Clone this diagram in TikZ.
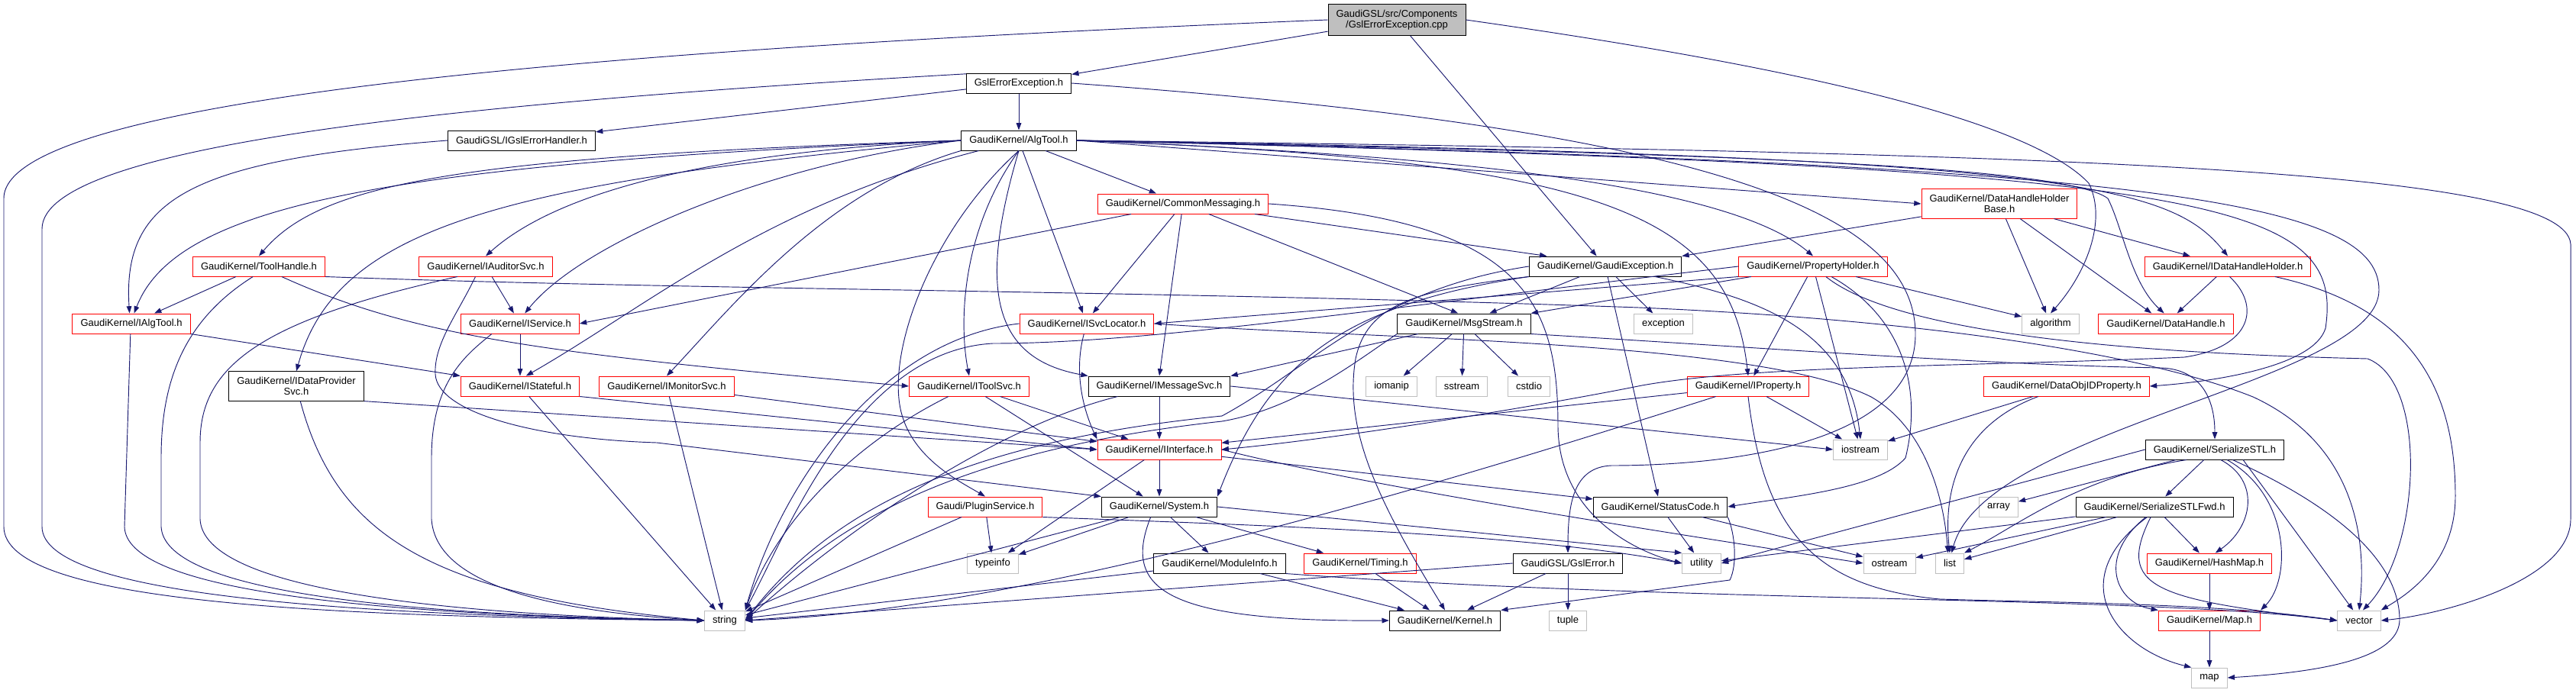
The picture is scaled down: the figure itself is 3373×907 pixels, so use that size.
\documentclass[tikz,border=0pt]{standalone}
\usepackage{fontspec}
\setmainfont{Liberation Sans}
\usepackage{xcolor}
\usepackage{tikz}
\usetikzlibrary{arrows.meta}
\definecolor{edgeblue}{HTML}{191970}
\definecolor{truncred}{HTML}{FF0000}
\definecolor{sysgray}{HTML}{BFBFBF}

\begin{document}
\begin{tikzpicture}[x=0.75pt,y=-0.75pt]
  \tikzset{FileBox/.style={rectangle, draw=black, fill=white, line width=0.75pt, text centered, inner xsep=7.9pt, inner ysep=0pt, minimum height=19.5pt, font=\fontsize{9.75}{10.5}\selectfont}};
  \tikzset{RedBox/.style={FileBox, draw=truncred}};
  \tikzset{SysBox/.style={FileBox, draw=sysgray}};
  \tikzset{RootBox/.style={FileBox, fill=sysgray, align=center, inner ysep=5.5pt}};
  \tikzset{Wrap/.style={align=center, inner ysep=5.5pt}};
  \tikzset{Dep/.style={-{Triangle[length=7pt,width=5pt]}, draw=edgeblue, line width=0.7pt}};
  \fill[white] (0,0) rectangle (3373,907);
  \useasboundingbox (0,0) rectangle (3373,907);
  \node[RootBox] (root) at (1829,26) {GaudiGSL/src/Components\\/GslErrorException.cpp};
  \node[FileBox] (gee) at (1334,109) {GslErrorException.h};
  \node[FileBox] (igeh) at (683,184) {GaudiGSL/IGslErrorHandler.h};
  \node[FileBox] (algtool) at (1334,184) {GaudiKernel/AlgTool.h};
  \node[RedBox] (cmsg) at (1549,267) {GaudiKernel/CommonMessaging.h};
  \node[RedBox,Wrap] (dhhb) at (2618,267) {GaudiKernel/DataHandleHolder\\Base.h};
  \node[RedBox] (toolh) at (339,349) {GaudiKernel/ToolHandle.h};
  \node[RedBox] (iaud) at (636,349) {GaudiKernel/IAuditorSvc.h};
  \node[FileBox] (gexc) at (2102,349) {GaudiKernel/GaudiException.h};
  \node[RedBox] (prop) at (2374,349) {GaudiKernel/PropertyHolder.h};
  \node[RedBox] (idhh) at (2917,349) {GaudiKernel/IDataHandleHolder.h};
  \node[RedBox] (ialg) at (172,424) {GaudiKernel/IAlgTool.h};
  \node[RedBox] (isvc) at (681,424) {GaudiKernel/IService.h};
  \node[RedBox] (isloc) at (1423,424) {GaudiKernel/ISvcLocator.h};
  \node[FileBox] (msgs) at (1917,424) {GaudiKernel/MsgStream.h};
  \node[SysBox] (exc) at (2178,424) {exception};
  \node[SysBox] (algo) at (2685,424) {algorithm};
  \node[RedBox] (dh) at (2836,424) {GaudiKernel/DataHandle.h};
  \node[FileBox,Wrap] (idps) at (388,506) {GaudiKernel/IDataProvider\\Svc.h};
  \node[RedBox] (istate) at (681,506) {GaudiKernel/IStateful.h};
  \node[RedBox] (imon) at (873,506) {GaudiKernel/IMonitorSvc.h};
  \node[RedBox] (itool) at (1269,506) {GaudiKernel/IToolSvc.h};
  \node[FileBox] (imsg) at (1518,506) {GaudiKernel/IMessageSvc.h};
  \node[SysBox] (iomanip) at (1822,506) {iomanip};
  \node[SysBox] (sstream) at (1914,506) {sstream};
  \node[SysBox] (cstdio) at (2002,506) {cstdio};
  \node[RedBox] (iprop) at (2289,506) {GaudiKernel/IProperty.h};
  \node[RedBox] (dop) at (2706,506) {GaudiKernel/DataObjIDProperty.h};
  \node[RedBox] (iint) at (1518,589) {GaudiKernel/IInterface.h};
  \node[SysBox] (iostream) at (2436,589) {iostream};
  \node[FileBox] (sstl) at (2900,589) {GaudiKernel/SerializeSTL.h};
  \node[RedBox] (plug) at (1290,664) {Gaudi/PluginService.h};
  \node[FileBox] (system) at (1518,664) {GaudiKernel/System.h};
  \node[FileBox] (status) at (2174,664) {GaudiKernel/StatusCode.h};
  \node[SysBox] (array) at (2617,664) {array};
  \node[FileBox] (sstlf) at (2821,664) {GaudiKernel/SerializeSTLFwd.h};
  \node[SysBox] (typeinfo) at (1300,738) {typeinfo};
  \node[FileBox] (modinfo) at (1597,738) {GaudiKernel/ModuleInfo.h};
  \node[RedBox] (timing) at (1781,738) {GaudiKernel/Timing.h};
  \node[FileBox] (gslerr) at (2053,738) {GaudiGSL/GslError.h};
  \node[SysBox] (utility) at (2228,738) {utility};
  \node[SysBox] (ostream) at (2474,738) {ostream};
  \node[SysBox] (list) at (2553,738) {list};
  \node[RedBox] (hashmap) at (2893,738) {GaudiKernel/HashMap.h};
  \node[SysBox] (string) at (949,813) {string};
  \node[FileBox] (kernel) at (1892,813) {GaudiKernel/Kernel.h};
  \node[SysBox] (tuple) at (2053,813) {tuple};
  \node[RedBox] (mapH) at (2893,813) {GaudiKernel/Map.h};
  \node[SysBox] (vector) at (3089,813) {vector};
  \node[SysBox] (map) at (2893,888) {map};
  \draw[Dep] (root) -- (gee);
  \draw[Dep] (root) -- (gexc);
  \draw[Dep] (root.west) .. controls (900,60) and (5,120) .. (5,260) -- (5,690) .. controls (5,790) and (420,808) .. (string.west);
  \draw[Dep] (root.east) .. controls (2300,80) and (2650,150) .. (2735,240) .. controls (2760,290) and (2730,360) .. (algo.north);
  \draw[Dep] (gee) -- (algtool);
  \draw[Dep] (gee) -- (igeh);
  \draw[Dep] (gee.170) .. controls (600,135) and (55,190) .. (55,300) -- (55,690) .. controls (55,780) and (450,806) .. (string.west);
  \draw[Dep] (gee.east) .. controls (2250,170) and (2510,280) .. (2508,440) .. controls (2505,600) and (2200,610) .. (2110,610) .. controls (2060,612) and (2053,660) .. (gslerr.north);
  \draw[Dep] (igeh.west) .. controls (250,210) and (160,260) .. (ialg.100);
  \draw[Dep] (algtool.west) .. controls (500,215) and (230,270) .. (ialg.75);
  \draw[Dep] (algtool.west) .. controls (600,205) and (420,240) .. (toolh.north);
  \draw[Dep] (algtool.west) .. controls (900,200) and (720,260) .. (iaud.north);
  \draw[Dep] (algtool.west) .. controls (1000,215) and (760,320) .. (isvc.65);
  \draw[Dep] (algtool.west) .. controls (650,240) and (440,300) .. (idps.north);
  \draw[Dep] (algtool) .. controls (1000,270) and (850,400) .. (istate.60);
  \draw[Dep] (algtool.south west) .. controls (1080,250) and (960,400) .. (imon.north);
  \draw[Dep] (algtool.south) .. controls (1260,300) and (1255,420) .. (itool.north);
  \draw[Dep] (algtool.south) .. controls (1220,300) and (1160,460) .. (1180,540) .. controls (1195,600) and (1255,630) .. (plug.north);
  \draw[Dep] (algtool.south) .. controls (1280,380) and (1300,470) .. (imsg.north west);
  \draw[Dep] (algtool) -- (isloc);
  \draw[Dep] (algtool) -- (cmsg);
  \draw[Dep] (algtool.east) .. controls (1800,200) and (2250,230) .. (prop.north);
  \draw[Dep] (algtool.east) .. controls (2100,210) and (2265,280) .. (iprop.north);
  \draw[Dep] (algtool.east) -- (dhhb.west);
  \draw[Dep] (algtool.east) .. controls (2700,205) and (2840,240) .. (idhh.north);
  \draw[Dep] (algtool.east) .. controls (2200,200) and (2700,215) .. (2760,260) .. controls (2780,300) and (2790,370) .. (dh.100);
  \draw[Dep] (algtool.east) .. controls (2900,220) and (3070,260) .. (3045,430) .. controls (3030,480) and (2900,500) .. (dop.east);
  \draw[Dep] (algtool.east) .. controls (2800,215) and (3115,260) .. (3115,380) .. controls (3115,500) and (2600,560) .. (list.80);
  \draw[Dep] (algtool.east) .. controls (2700,200) and (3360,220) .. (3366,320) -- (3366,680) .. controls (3366,760) and (3200,805) .. (vector.east);
  \draw[Dep] (cmsg) -- (isvc.east);
  \draw[Dep] (cmsg) -- (isloc.60);
  \draw[Dep] (cmsg) -- (imsg.north);
  \draw[Dep] (cmsg) -- (msgs.120);
  \draw[Dep] (cmsg) -- (gexc.170);
  \draw[Dep] (cmsg.east) .. controls (2000,290) and (2040,400) .. (2040,560) .. controls (2042,680) and (2150,725) .. (utility.west);
  \draw[Dep] (dhhb) -- (gexc.north east);
  \draw[Dep] (dhhb) -- (idhh);
  \draw[Dep] (dhhb) -- (algo);
  \draw[Dep] (dhhb) -- (dh);
  \draw[Dep] (toolh) -- (ialg);
  \draw[Dep] (toolh) .. controls (540,440) and (700,462) .. (itool.west);
  \draw[Dep] (toolh.240) .. controls (240,420) and (211,500) .. (211,600) -- (211,690) .. controls (215,770) and (480,805) .. (string.west);
  \draw[Dep] (toolh.south east) .. controls (900,380) and (1500,380) .. (2146,403) .. controls (2500,418) and (2800,460) .. (2950,520) .. controls (3080,580) and (3100,700) .. (vector.north);
  \draw[Dep] (iaud) -- (isvc);
  \draw[Dep] (iaud.225) .. controls (600,410) and (568,450) .. (570,490) .. controls (572,540) and (700,575) .. (860,580) -- (system.north west);
  \draw[Dep] (iaud.200) .. controls (340,420) and (262,480) .. (262,580) -- (262,680) .. controls (265,760) and (500,803) .. (string.west);
  \draw[Dep] (gexc) -- (msgs);
  \draw[Dep] (gexc) -- (exc);
  \draw[Dep] (gexc) -- (status);
  \draw[Dep] (gexc) .. controls (2300,390) and (2420,430) .. (iostream.north);
  \draw[Dep] (gexc.south west) .. controls (1750,400) and (1660,480) .. (system.north east);
  \draw[Dep] (gexc.south west) .. controls (1850,380) and (1790,400) .. (1775,470) .. controls (1760,560) and (1800,650) .. (kernel.north);
  \draw[Dep] (gexc.west) .. controls (1800,380) and (1720,480) .. (1600,545) .. controls (1300,575) and (1100,650) .. (string.east);
  \draw[Dep] (prop.south west) -- (isloc.east);
  \draw[Dep] (prop) -- (msgs.north east);
  \draw[Dep] (prop) -- (iprop);
  \draw[Dep] (prop) -- (iostream);
  \draw[Dep] (prop) -- (algo);
  \draw[Dep] (prop) .. controls (2500,420) and (2515,520) .. (2495,600) .. controls (2460,640) and (2350,650) .. (status.east);
  \draw[Dep] (prop) .. controls (2500,450) and (2900,465) .. (3100,470) .. controls (3180,500) and (3170,720) .. (vector.70);
  \draw[Dep] (prop.west) .. controls (1800,405) and (1500,450) .. (1300,450) .. controls (1120,460) and (1030,700) .. (string.north east);
  \draw[Dep] (idhh) -- (dh);
  \draw[Dep] (idhh.280) .. controls (2960,400) and (2950,455) .. (2860,468) .. controls (2600,480) and (2300,478) .. (2150,505) .. controls (2000,535) and (1750,575) .. (iint.east);
  \draw[Dep] (idhh) .. controls (3150,400) and (3215,500) .. (3215,650) .. controls (3215,740) and (3150,780) .. (vector.north east);
  \draw[Dep] (ialg.south east) -- (istate.north west);
  \draw[Dep] (ialg.265) -- (163,690) .. controls (165,770) and (450,805) .. (string.west);
  \draw[Dep] (isvc) -- (istate);
  \draw[Dep] (isvc.200) .. controls (610,465) and (565,500) .. (565,600) -- (565,680) .. controls (570,760) and (700,800) .. (string.west);
  \draw[Dep] (isloc) .. controls (1405,490) and (1420,540) .. (iint.north west);
  \draw[Dep] (isloc.west) .. controls (1150,445) and (1020,640) .. (string.north east);
  \draw[Dep] (isloc.east) .. controls (1800,445) and (2300,445) .. (2450,520) .. controls (2520,560) and (2545,650) .. (list.100);
  \draw[Dep] (msgs) -- (imsg.north east);
  \draw[Dep] (msgs) -- (iomanip);
  \draw[Dep] (msgs) -- (sstream);
  \draw[Dep] (msgs) -- (cstdio);
  \draw[Dep] (msgs.south east) .. controls (2300,455) and (2600,478) .. (2830,482) .. controls (2880,484) and (2900,520) .. (sstl.north);
  \draw[Dep] (msgs.south west) .. controls (1780,470) and (1700,535) .. (1600,552) .. controls (1300,585) and (1100,665) .. (string.east);
  \draw[Dep] (idps.south east) -- (iint.west);
  \draw[Dep] (idps) .. controls (440,700) and (560,780) .. (string.west);
  \draw[Dep] (istate.south east) -- (iint.west);
  \draw[Dep] (istate) -- (string);
  \draw[Dep] (imon) -- (iint);
  \draw[Dep] (imon) -- (string);
  \draw[Dep] (itool) -- (iint);
  \draw[Dep] (itool) -- (system);
  \draw[Dep] (itool) .. controls (1100,590) and (1010,700) .. (string.north east);
  \draw[Dep] (imsg) -- (iint);
  \draw[Dep] (imsg.east) -- (iostream.west);
  \draw[Dep] (imsg) .. controls (1300,560) and (1100,700) .. (string.east);
  \draw[Dep] (iprop) -- (iint);
  \draw[Dep] (iprop) -- (iostream);
  \draw[Dep] (iprop) .. controls (1900,630) and (1350,800) .. (string.east);
  \draw[Dep] (iprop.south) .. controls (2310,700) and (2380,770) .. (2540,785) .. controls (2700,790) and (2900,790) .. (vector.west);
  \draw[Dep] (dop) -- (iostream);
  \draw[Dep] (dop.200) .. controls (2560,560) and (2545,650) .. (list.north);
  \draw[Dep] (iint) -- (system);
  \draw[Dep] (iint) -- (typeinfo);
  \draw[Dep] (iint) -- (status);
  \draw[Dep] (iint.east) .. controls (1800,640) and (2200,700) .. (ostream.west);
  \draw[Dep] (sstl) -- (array);
  \draw[Dep] (sstl) -- (sstlf);
  \draw[Dep] (sstl.west) -- (utility.east);
  \draw[Dep] (sstl.200) .. controls (2720,625) and (2640,690) .. (list.north east);
  \draw[Dep] (sstl.300) .. controls (2960,630) and (2950,690) .. (hashmap.60);
  \draw[Dep] (sstl.320) .. controls (3000,650) and (3000,760) .. (mapH.north east);
  \draw[Dep] (sstl.330) .. controls (3050,660) and (3140,730) .. (3142,810) .. controls (3144,860) and (3050,880) .. (map.east);
  \draw[Dep] (sstl.340) -- (vector.120);
  \draw[Dep] (sstlf) -- (list);
  \draw[Dep] (sstlf) -- (hashmap);
  \draw[Dep] (sstlf) -- (ostream);
  \draw[Dep] (sstlf) -- (utility);
  \draw[Dep] (sstlf.230) .. controls (2745,730) and (2770,790) .. (mapH.north west);
  \draw[Dep] (sstlf.250) .. controls (2770,770) and (2820,785) .. (vector.west);
  \draw[Dep] (sstlf.235) .. controls (2700,760) and (2770,850) .. (map.north west);
  \draw[Dep] (plug) -- (typeinfo);
  \draw[Dep] (plug) -- (string);
  \draw[Dep] (plug.south east) .. controls (1700,690) and (2000,700) .. (utility.west);
  \draw[Dep] (system) -- (typeinfo);
  \draw[Dep] (system) -- (string);
  \draw[Dep] (system) -- (modinfo);
  \draw[Dep] (system) -- (timing);
  \draw[Dep] (system.east) -- (utility.north west);
  \draw[Dep] (system.230) .. controls (1470,770) and (1520,815) .. (kernel.west);
  \draw[Dep] (status) -- (utility);
  \draw[Dep] (status) -- (ostream);
  \draw[Dep] (status.south east) .. controls (2272,700) and (2275,740) .. (2265,760) -- (kernel.north east);
  \draw[Dep] (timing) -- (kernel);
  \draw[Dep] (modinfo) -- (string);
  \draw[Dep] (modinfo) -- (kernel);
  \draw[Dep] (modinfo.south east) .. controls (2200,790) and (2800,780) .. (vector.west);
  \draw[Dep] (gslerr) -- (kernel);
  \draw[Dep] (gslerr) -- (tuple);
  \draw[Dep] (gslerr.west) -- (string.east);
  \draw[Dep] (hashmap) -- (mapH);
  \draw[Dep] (mapH) -- (map);
\end{tikzpicture}
\end{document}
